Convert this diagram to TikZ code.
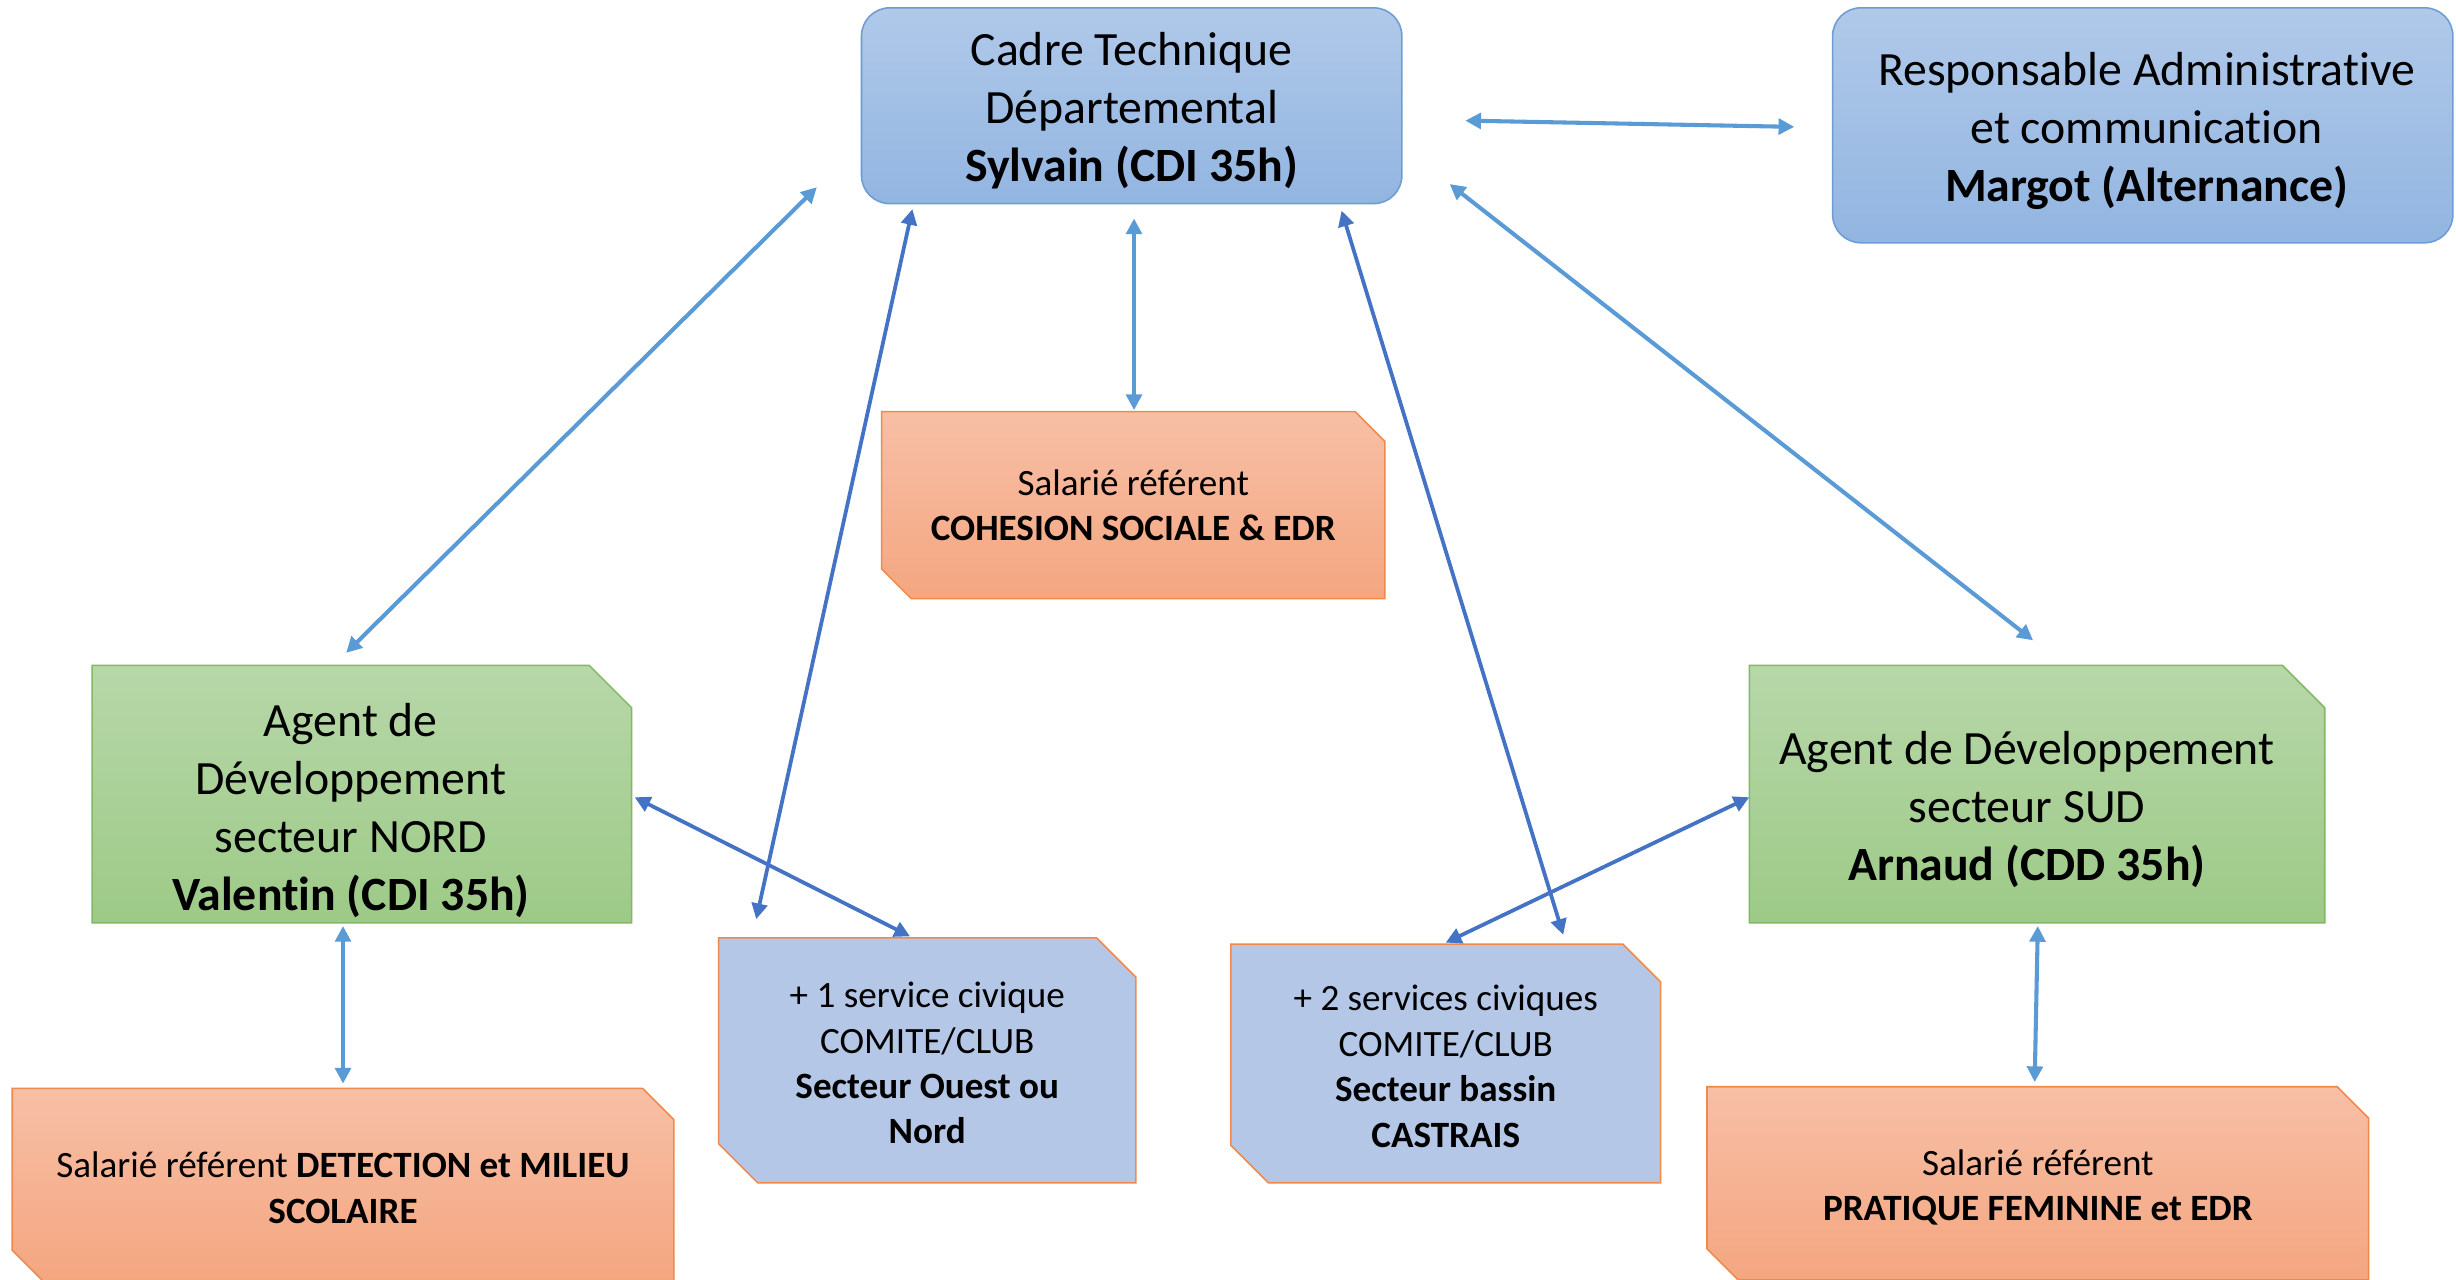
\documentclass[tikz,border=0pt]{standalone}
\usepackage{fontspec}
\setmainfont{Carlito}[Ligatures={NoCommon}]
\usetikzlibrary{arrows.meta,calc,backgrounds}
\definecolor{blueTop}{HTML}{B0C9E9}
\definecolor{blueBot}{HTML}{92B5E1}
\definecolor{blueBorder}{HTML}{6D9DD4}
\definecolor{greenTop}{HTML}{B7D7A9}
\definecolor{greenBot}{HTML}{9DCA87}
\definecolor{greenBorder}{HTML}{82B866}
\definecolor{orangeTop}{HTML}{F7BFA6}
\definecolor{orangeBot}{HTML}{F4A680}
\definecolor{orangeBorder}{HTML}{F08A4B}
\definecolor{svcFill}{HTML}{B4C7E7}
\definecolor{arrowLight}{HTML}{5B9BD5}
\definecolor{arrowDark}{HTML}{4472C4}
\newcommand\bigtxt{\fontsize{30.5pt}{37pt}\selectfont}
\newcommand\smalltxt{\fontsize{23.7pt}{29pt}\selectfont}
\newcommand\movedtext[3]{\raisebox{#2}[\height][\depth]{\hspace*{#1}\begin{tabular}{@{}c@{}}#3\end{tabular}}}
% snipped rectangle drawn around a node: #1 node, #2 cut, #3 options, #4 snip bottom-left (1) or not (0)
\newcommand\snipshape[4]{%
  \ifnum#4=1
    \path[#3] (#1.north west) -- ([xshift=-#2]#1.north east) -- ([yshift=-#2]#1.north east)
      -- (#1.south east) -- ([xshift=#2]#1.south west) -- ([yshift=#2]#1.south west) -- cycle;
  \else
    \path[#3] (#1.north west) -- ([xshift=-#2]#1.north east) -- ([yshift=-#2]#1.north east)
      -- (#1.south east) -- (#1.south west) -- cycle;
  \fi}
\tikzset{
  boxbase/.style={rectangle, inner sep=0pt, align=center, text=black},
  roundbox/.style={boxbase, draw=blueBorder, line width=1pt, rounded corners=18pt,
    top color=blueTop, bottom color=blueBot, font=\bigtxt},
  greenbox/.style={boxbase, font=\bigtxt},
  orangebox/.style={boxbase, font=\smalltxt},
  svcbox/.style={boxbase, font=\smalltxt},
  greenpaint/.style={draw=greenBorder, line width=1pt, top color=greenTop, bottom color=greenBot},
  orangepaint/.style={draw=orangeBorder, line width=1pt, top color=orangeTop, bottom color=orangeBot},
  svcpaint/.style={draw=orangeBorder, line width=1pt, fill=svcFill},
  tip/.tip={Triangle[length=10pt,width=10pt]},
  la/.style={draw=arrowLight, line width=2.6pt, tip-tip},
  da/.style={draw=arrowDark, line width=2.4pt, tip-tip},
}
\begin{document}
\begin{tikzpicture}[x=1pt,y=-1pt]
\useasboundingbox (0,0) rectangle (1568,817);

\node[roundbox, minimum width=345pt, minimum height=125pt] (cadre) at (722.5,67.5)
  {\movedtext{0pt}{-4pt}{Cadre Technique\\Départemental\\\textbf{Sylvain (CDI 35h)}}};
\node[roundbox, minimum width=396pt, minimum height=150pt] (resp) at (1368,80)
  {\movedtext{5pt}{-4pt}{Responsable Administrative\\et communication\\\textbf{Margot (Alternance)}}};

\node[orangebox, minimum width=321pt, minimum height=119pt] (coh) at (723.5,322.5)
  {Salarié référent\\\textbf{COHESION SOCIALE \& EDR}};
\node[greenbox, minimum width=344pt, minimum height=164pt] (nord) at (231,507)
  {\movedtext{-14pt}{-11.5pt}{Agent de\\Développement\\secteur NORD\\\textbf{Valentin (CDI 35h)}}};
\node[greenbox, minimum width=367pt, minimum height=164pt] (sud) at (1300.5,507)
  {\movedtext{-13pt}{-10.5pt}{Agent de Développement\\secteur SUD\\\textbf{Arnaud (CDD 35h)}}};
\node[svcbox, minimum width=266pt, minimum height=156pt] (sc1) at (592,677)
  {\movedtext{0pt}{-4pt}{+ 1 service civique\\COMITE/CLUB\\\textbf{Secteur Ouest ou}\\\textbf{Nord}}};
\node[svcbox, minimum width=274pt, minimum height=152pt] (sc2) at (923,679)
  {\movedtext{0pt}{-4pt}{+ 2 services civiques\\COMITE/CLUB\\\textbf{Secteur bassin}\\\textbf{CASTRAIS}}};
\node[orangebox, minimum width=422pt, minimum height=123pt] (det) at (219,756.5)
  {\movedtext{0pt}{-4pt}{Salarié référent \textbf{DETECTION et MILIEU}\\\textbf{SCOLAIRE}}};
\node[orangebox, minimum width=422pt, minimum height=123pt] (prat) at (1301,755.5)
  {\movedtext{0pt}{-3.5pt}{Salarié référent\\\textbf{PRATIQUE FEMININE et EDR}}};

\begin{pgfonlayer}{background}
  \fill[white] (0,0) rectangle (1568,817);
  \snipshape{coh}{19pt}{orangepaint}{1}
  \snipshape{nord}{27pt}{greenpaint}{0}
  \snipshape{sud}{27pt}{greenpaint}{0}
  \snipshape{sc1}{25pt}{svcpaint}{1}
  \snipshape{sc2}{24pt}{svcpaint}{1}
  \snipshape{det}{20pt}{orangepaint}{1}
  \snipshape{prat}{20pt}{orangepaint}{1}
\end{pgfonlayer}

\draw[la] ($(cadre.east)+(40,9.5)$) -- ($(resp.west)+(-24,1)$);
\draw[la] ($(cadre.south west)+(-28,-11)$) -- ($(nord.north)+(-10,-8)$);
\draw[da] ($(cadre.south west)+(33,3)$) -- ($(sc1.north west)+(24,-12)$);
\draw[la] ($(cadre.south)+(1.5,9)$) -- ($(coh.north)+(0.5,-1)$);
\draw[da] ($(cadre.south east)+(-39,4)$) -- ($(sc2.north)+(75,-6)$);
\draw[la] ($(cadre.south east)+(30,-13)$) -- ($(sud.north)+(-2.5,-16)$);
\draw[da] ($(nord.east)+(2,2)$) -- ($(sc1.north)+(-11,-1)$);
\draw[da] ($(sud.west)+(0,2)$) -- ($(sc2.north)+(0,-1)$);
\draw[la] ($(nord.south)+(-12,2)$) -- ($(det.north)+(0,-3)$);
\draw[la] ($(sud.south)+(0.5,2)$) -- ($(prat.north)+(-2,-3)$);
\end{tikzpicture}
\end{document}
